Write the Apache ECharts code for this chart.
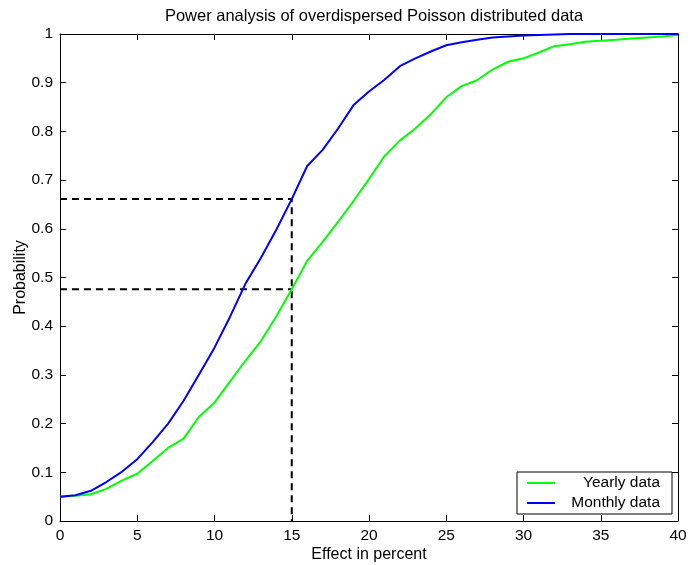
<!DOCTYPE html>
<html>
<head>
<meta charset="utf-8">
<script src="https://cdn.jsdelivr.net/npm/echarts@6/dist/echarts.min.js"></script>
<style>
  html, body { margin: 0; padding: 0; background: #fff; }
  #chart { width: 690px; height: 565px; }
</style>
</head>
<body>
<div id="chart"></div>
<script>
// Effect size (percent) at which power was simulated
const effect = [0,1,2,3,4,5,6,7,8,9,10,11,12,13,14,15,16,17,18,19,20,
                21,22,23,24,25,26,27,28,29,30,31,32,33,34,35,36,37,38,39,40];

// Probability of detecting the effect, yearly aggregated data
const yearly = [0.050,0.052,0.055,0.066,0.083,0.097,0.123,0.150,0.169,0.214,0.243,
                0.286,0.329,0.369,0.420,0.476,0.534,0.573,0.614,0.657,0.702,
                0.749,0.781,0.806,0.835,0.870,0.893,0.905,0.927,0.943,0.950,
                0.962,0.975,0.979,0.984,0.986,0.988,0.991,0.993,0.995,0.998];

// Probability of detecting the effect, monthly data
const monthly = [0.050,0.053,0.062,0.080,0.101,0.127,0.162,0.200,0.247,0.301,0.356,
                 0.419,0.487,0.540,0.598,0.661,0.729,0.762,0.806,0.854,0.882,
                 0.906,0.934,0.950,0.964,0.977,0.983,0.988,0.993,0.995,0.997,
                 0.998,0.999,1.000,1.000,1.000,1.000,1.000,1.000,1.000,1.000];

// Reference effect marked with dashed guide lines
const markedEffect = 15;

const seriesNames = ['Yearly data', 'Monthly data'];
const FONT = '"Liberation Sans", Arial, Helvetica, sans-serif';

const idx = effect.indexOf(markedEffect);
const yMonthly = monthly[idx];
const yYearly = yearly[idx];

const dashStyle = { color: '#000', width: 2, type: [7, 5] };

const chart = echarts.init(document.getElementById('chart'), null, { renderer: 'canvas' });

const axisCommon = {
  type: 'value',
  axisLine: { show: true, onZero: false, lineStyle: { color: '#000', width: 1 } },
  axisTick: { show: true, inside: true, length: 6, lineStyle: { color: '#000', width: 1 } },
  splitLine: { show: false }
};

chart.setOption({
  animation: false,
  backgroundColor: '#fff',
  textStyle: { fontFamily: FONT },
  title: {
    text: 'Power analysis of overdispersed Poisson distributed data',
    left: 369, top: 3, textAlign: 'center',
    textStyle: { fontFamily: FONT, fontSize: 16.5, fontWeight: 'normal', color: '#000' }
  },
  grid: { left: 60, right: 12, top: 34, bottom: 44, containLabel: false, outerBoundsMode: 'none' },
  legend: {
    data: seriesNames,
    orient: 'vertical',
    right: 18, bottom: 51,
    padding: [3, 12, 3, 10],
    itemGap: 4,
    itemWidth: 28, itemHeight: 14,
    icon: 'path://M0,6 L28,6 L28,8 L0,8 Z',
    backgroundColor: '#fff',
    borderColor: '#000', borderWidth: 1, borderRadius: 0,
    formatter: name => '{t|' + name + '}',
    textStyle: {
      fontFamily: FONT, fontSize: 15.5, color: '#000',
      rich: { t: { width: 100, align: 'right', lineHeight: 15, fontFamily: FONT, fontSize: 15.5, color: '#000' } }
    }
  },
  xAxis: [
    Object.assign({}, axisCommon, {
      position: 'bottom', min: 0, max: 40, interval: 5,
      name: 'Effect in percent', nameLocation: 'middle', nameGap: 26, nameMoveOverlap: false,
      nameTextStyle: { fontFamily: FONT, fontSize: 16, color: '#000' },
      axisLabel: { fontFamily: FONT, fontSize: 15.5, color: '#000', margin: 7 }
    }),
    Object.assign({}, axisCommon, {
      position: 'top', min: 0, max: 40, interval: 5,
      axisLabel: { show: false }
    })
  ],
  yAxis: [
    Object.assign({}, axisCommon, {
      position: 'left', min: 0, max: 1, interval: 0.1,
      name: 'Probability', nameLocation: 'middle', nameGap: 31, nameMoveOverlap: false,
      nameTextStyle: { fontFamily: FONT, fontSize: 16, color: '#000' },
      axisLabel: { fontFamily: FONT, fontSize: 15.5, color: '#000', margin: 7 }
    }),
    Object.assign({}, axisCommon, {
      position: 'right', min: 0, max: 1, interval: 0.1,
      axisLabel: { show: false }
    })
  ],
  series: [
    {
      name: 'guide-monthly', type: 'line', symbol: 'none', silent: true,
      lineStyle: dashStyle,
      data: [[0, yMonthly], [markedEffect, yMonthly], [markedEffect, 0]]
    },
    {
      name: 'guide-yearly', type: 'line', symbol: 'none', silent: true,
      lineStyle: dashStyle,
      data: [[0, yYearly], [markedEffect, yYearly]]
    },
    {
      name: seriesNames[0], type: 'line', symbol: 'none',
      itemStyle: { color: '#00ff00' },
      lineStyle: { color: '#00ff00', width: 2 },
      data: effect.map((e, i) => [e, yearly[i]])
    },
    {
      name: seriesNames[1], type: 'line', symbol: 'none',
      itemStyle: { color: '#0000ff' },
      lineStyle: { color: '#0000ff', width: 2 },
      data: effect.map((e, i) => [e, monthly[i]])
    }
  ]
});
</script>
</body>
</html>
